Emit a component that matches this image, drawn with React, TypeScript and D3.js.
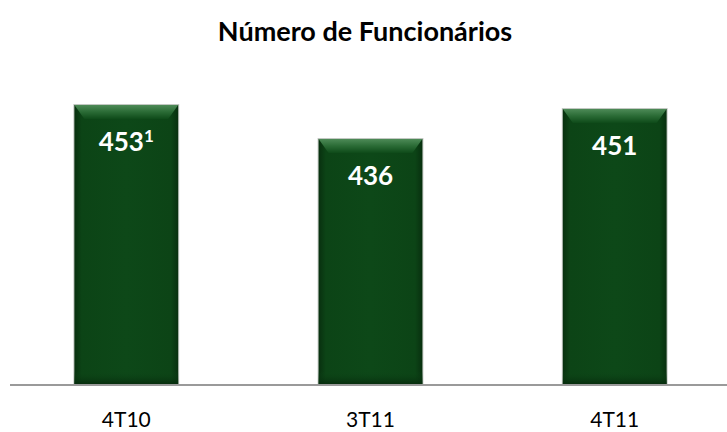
import * as d3 from "d3";
import React from "react";

const categories = ["4T10", "3T11", "4T11"];
const values = [453, 436, 451];
const valueLabels = ["453", "436", "451"];
const superscripts = ["1", "", ""];
const title = "Número de Funcionários";

const W = 727;
const H = 432;

function App() {
    const x = d3.scaleBand<string>()
        .domain(categories)
        .range([6, 735])
        .paddingInner(0.575)
        .paddingOuter(0.28);

    const y = d3.scaleLinear().domain([313, 453]).range([385, 105]);
    const base = y(313);
    const bw = x.bandwidth();

    return (
        <svg width={W} height={H} style={{ display: "block", position: "absolute", left: 0, top: 0 }}
            fontFamily="Lato, 'Open Sans', sans-serif">
            <defs>
                <linearGradient id="side" x1="0" x2="1" y1="0" y2="0">
                    <stop offset="0" stopColor="#08300f" />
                    <stop offset="0.07" stopColor="#0c4416" />
                    <stop offset="0.5" stopColor="#0d4818" />
                    <stop offset="0.93" stopColor="#0c4416" />
                    <stop offset="1" stopColor="#08300f" />
                </linearGradient>
                <linearGradient id="bevel" x1="0" x2="0" y1="0" y2="1">
                    <stop offset="0" stopColor="#4d8a57" />
                    <stop offset="0.5" stopColor="#2a6b35" />
                    <stop offset="1" stopColor="#0e4a19" />
                </linearGradient>
                <linearGradient id="bottom" x1="0" x2="0" y1="0" y2="1">
                    <stop offset="0" stopColor="#0d4818" stopOpacity="0" />
                    <stop offset="1" stopColor="#062a0c" />
                </linearGradient>
            </defs>

            <text x={365} y={41} textAnchor="middle" fontSize={27} fontWeight="bold" fill="#000">{title}</text>

            {categories.map((c, i) => {
                const x0 = x(c)!;
                const top = y(values[i]);
                const h = base - top;
                return (
                    <g key={c}>
                        <rect x={x0 - 1} y={top - 1} width={bw + 2} height={h + 1} fill="#9aa39a" opacity={0.6} />
                        <rect x={x0} y={top} width={bw} height={h} fill="url(#side)" />
                        <rect x={x0} y={base - 14} width={bw} height={14} fill="url(#bottom)" />
                        <path d={`M${x0},${top} L${x0 + bw},${top} L${x0 + bw - 10},${top + 14} L${x0 + 10},${top + 14} Z`}
                            fill="url(#bevel)" />
                        <text x={x0 + bw / 2} y={top + 46} textAnchor="middle" fontSize={26} fontWeight="bold" fill="#fff">
                            {valueLabels[i]}
                            {superscripts[i] && <tspan fontSize={17} dy={-9}>{superscripts[i]}</tspan>}
                        </text>
                    </g>
                );
            })}

            <line x1={10} x2={727} y1={base} y2={base} stroke="#9a9a9a" strokeWidth={2} />

            {categories.map((c) => (
                <text key={c} x={x(c)! + bw / 2} y={427} textAnchor="middle" fontSize={21} fill="#000">{c}</text>
            ))}
        </svg>
    );
}

export default App;
